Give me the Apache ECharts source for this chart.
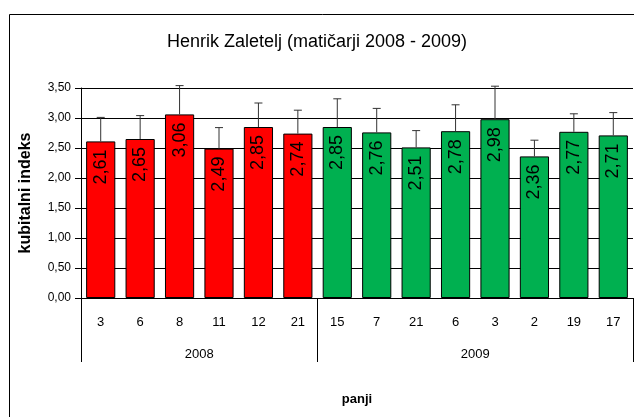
<!DOCTYPE html>
<html lang="sl">
<head>
    <meta charset="UTF-8">
    <title>Henrik Zaletelj</title>
    <script src="https://cdn.jsdelivr.net/npm/echarts@6/dist/echarts.min.js"></script>
    <style>
        html, body { margin: 0; padding: 0; background: #fff; }
        #main { width: 634px; height: 417px; }
    </style>
</head>
<body>
<div id="main"></div>
<script>
    // panji (hive numbers) and the year each one belongs to
    const panji = ['3', '6', '8', '11', '12', '21', '15', '7', '21', '6', '3', '2', '19', '17'];
    const years = ['2008', '2009'];
    const groupSizes = [6, 8];
    // kubitalni indeks (mean) and upper error
    const indeks = [2.61, 2.65, 3.06, 2.49, 2.85, 2.74, 2.85, 2.76, 2.51, 2.78, 2.98, 2.36, 2.77, 2.71];
    const napaka = [0.40, 0.39, 0.48, 0.35, 0.40, 0.39, 0.47, 0.40, 0.28, 0.44, 0.55, 0.27, 0.30, 0.38];
    const yearColors = ['#ff0000', '#00b050'];

    const FONT = '"Liberation Sans", Arial, sans-serif';
    const comma = v => v.toFixed(2).replace('.', ',');

    // group index of each bar, group boundaries and centres
    let groupOf = [];
    let bounds = [0];
    years.forEach((y, g) => {
        for (let i = 0; i < groupSizes[g]; i++) groupOf.push(g);
        bounds.push(bounds[bounds.length - 1] + groupSizes[g]);
    });
    let centers = years.map((y, g) => (bounds[g] + bounds[g + 1]) / 2);

    let barData = indeks.map((v, i) => ({
        value: v,
        itemStyle: { color: yearColors[groupOf[i]] }
    }));
    let errData = indeks.map((v, i) => [i, v, v + napaka[i]]);

    let myChart = echarts.init(document.getElementById('main'));
    let option = {
        animation: false,
        textStyle: { fontFamily: FONT },
        title: {
            text: 'Henrik Zaletelj (matičarji 2008 - 2009)',
            left: 'center',
            top: 28,
            textStyle: { fontFamily: FONT, fontSize: 18, fontWeight: 'normal', color: '#000' }
        },
        graphic: [{
            type: 'rect',
            left: 7, top: 12,
            shape: { width: 700, height: 500 },
            style: { fill: 'none', stroke: '#000', lineWidth: 1 },
            silent: true
        }],
        grid: { left: 81, right: 1, top: 88, bottom: 119 },
        xAxis: [{
            type: 'category',
            data: panji,
            axisLine: { lineStyle: { color: '#000', width: 1 } },
            axisTick: { interval: 0, length: 33, lineStyle: { color: '#000' } },
            axisLabel: { interval: 0, margin: 18, fontSize: 13, color: '#000', fontFamily: FONT },
            name: 'panji',
            nameLocation: 'middle',
            nameGap: 95,
            nameTextStyle: { fontSize: 13, fontWeight: 'bold', color: '#000', fontFamily: FONT }
        }, {
            type: 'value',
            min: 0,
            max: panji.length,
            position: 'bottom',
            axisLine: { show: false },
            splitLine: { show: false },
            axisTick: { show: true, customValues: bounds, length: 64, lineStyle: { color: '#000' } },
            axisLabel: {
                customValues: centers,
                margin: 50,
                fontSize: 13,
                color: '#000',
                fontFamily: FONT,
                formatter: v => years[centers.indexOf(v)] || ''
            }
        }],
        yAxis: {
            type: 'value',
            min: 0,
            max: 3.5,
            interval: 0.5,
            name: 'kubitalni indeks',
            nameLocation: 'middle',
            nameGap: 47,
            nameTextStyle: { fontSize: 16, fontWeight: 'bold', color: '#000', fontFamily: FONT },
            axisLine: { show: true, lineStyle: { color: '#000' } },
            axisTick: { show: true, length: 6, lineStyle: { color: '#000' } },
            axisLabel: { margin: 10, fontSize: 12, color: '#000', fontFamily: FONT, formatter: v => comma(v) },
            splitLine: { show: true, lineStyle: { color: '#000', width: 1 } }
        },
        series: [{
            type: 'bar',
            data: barData,
            barCategoryGap: '26%',
            itemStyle: { borderColor: '#000', borderWidth: 1 },
            label: {
                show: true,
                position: 'insideTop',
                distance: 8,
                rotate: 90,
                align: 'right',
                verticalAlign: 'middle',
                fontSize: 18,
                color: '#000',
                fontFamily: FONT,
                formatter: p => comma(p.value)
            },
            z: 2
        }, {
            type: 'custom',
            data: errData,
            clip: false,
            z: 3,
            renderItem: function (params, api) {
                let x = api.value(0);
                let lo = api.coord([x, api.value(1)]);
                let hi = api.coord([x, api.value(2)]);
                let cap = 4;
                let st = { stroke: '#333', lineWidth: 1 };
                return {
                    type: 'group',
                    children: [
                        { type: 'line', shape: { x1: lo[0], y1: lo[1], x2: hi[0], y2: hi[1] }, style: st },
                        { type: 'line', shape: { x1: hi[0] - cap, y1: hi[1], x2: hi[0] + cap, y2: hi[1] }, style: st }
                    ]
                };
            }
        }]
    };
    myChart.setOption(option);
</script>
</body>
</html>
